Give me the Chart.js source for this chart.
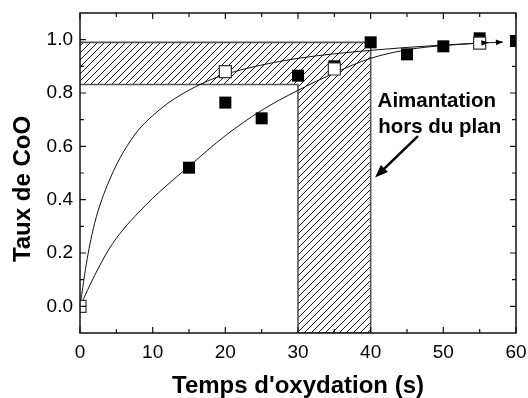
<!DOCTYPE html>
<html>
<head>
<meta charset="utf-8">
<script src="https://cdn.jsdelivr.net/npm/chart.js@4.4.0/dist/chart.umd.min.js"></script>
<style>
  html, body { margin: 0; padding: 0; background: #fff; }
  #wrap { width: 528px; height: 398px; }
</style>
</head>
<body>
<div id="wrap"><canvas id="chart" width="528" height="398"></canvas></div>
<script>
// carrés vides
const openX = [0, 20, 35, 55];
const openY = [0.0, 0.88, 0.89, 0.987];
// carrés pleins
const fullX = [15, 20, 25, 30, 35, 40, 45, 50, 55, 60];
const fullY = [0.52, 0.764, 0.705, 0.865, 0.90, 0.99, 0.945, 0.975, 1.005, 0.995];
// courbes d'ajustement
const fitOpenX = [0, 1, 2, 3, 4, 5, 6, 7, 8, 9, 10, 12, 14, 16, 18, 20, 25, 30, 35, 40, 45, 50, 55, 58.2];
const fitOpenY = [0, 0.18, 0.31, 0.40, 0.47, 0.53, 0.58, 0.623, 0.66, 0.69, 0.715, 0.76, 0.795, 0.825, 0.85, 0.87, 0.905, 0.93, 0.947, 0.96, 0.971, 0.98, 0.987, 0.991];
const fitFullX = [0, 2, 4, 6, 8, 10, 12, 15, 20, 25, 30, 35, 40, 45, 50, 56.2];
const fitFullY = [0, 0.115, 0.215, 0.29, 0.35, 0.405, 0.455, 0.525, 0.64, 0.735, 0.81, 0.875, 0.93, 0.962, 0.978, 0.989];
// zone hachurée
const hatchX = [0, 40, 40, 30, 30, 0];
const hatchY = [0.99, 0.99, -0.1, -0.1, 0.832, 0.832];
// graduations
const xTicks = [0, 10, 20, 30, 40, 50, 60];
const xMinor = [5, 15, 25, 35, 45, 55];
const yTicks = [0.0, 0.2, 0.4, 0.6, 0.8, 1.0];
const yMinor = [0.1, 0.3, 0.5, 0.7, 0.9];
// annotation
const noteLines = ['Aimantation', 'hors du plan'];
const notePos = [[49.1, 0.77], [49.5, 0.672]];
const noteArrow = [[46.5, 0.638], [40.6, 0.483]];

const FONT = "'Liberation Sans', Arial, sans-serif";

function zip(xs, ys) {
    return xs.map((x, i) => ({ x: x, y: ys[i] }));
}

// motif de hachures
function makeHatch() {
    const n = 7;
    const c = document.createElement('canvas');
    c.width = n; c.height = n;
    const g = c.getContext('2d');
    g.strokeStyle = '#1a1a1a';
    g.lineWidth = 1;
    g.beginPath();
    g.moveTo(0, n); g.lineTo(n, 0);
    g.moveTo(-1, 1); g.lineTo(1, -1);
    g.moveTo(n - 1, n + 1); g.lineTo(n + 1, n - 1);
    g.stroke();
    return g.createPattern(c, 'repeat');
}

function arrowHead(ctx, x0, y0, x1, y1, len, half) {
    const a = Math.atan2(y1 - y0, x1 - x0);
    ctx.beginPath();
    ctx.moveTo(x1, y1);
    ctx.lineTo(x1 - len * Math.cos(a) + half * Math.sin(a), y1 - len * Math.sin(a) - half * Math.cos(a));
    ctx.lineTo(x1 - len * Math.cos(a) - half * Math.sin(a), y1 - len * Math.sin(a) + half * Math.cos(a));
    ctx.closePath();
    ctx.fill();
}

const decor = {
    id: 'decor',
    afterDatasetsDraw(chart) {
        const ctx = chart.ctx;
        const xs = chart.scales.x, ys = chart.scales.y;
        ctx.save();
        ctx.fillStyle = '#000';
        ctx.strokeStyle = '#000';
        // flèches en bout de courbe
        [2, 3].forEach(i => {
            const pts = chart.getDatasetMeta(i).data;
            const p0 = pts[pts.length - 2], p1 = pts[pts.length - 1];
            arrowHead(ctx, p0.x, p0.y, p1.x, p1.y, 7, 2.8);
        });
        // annotation
        ctx.font = 'bold 20.5px ' + FONT;
        ctx.textAlign = 'center';
        ctx.textBaseline = 'middle';
        noteLines.forEach((t, i) => {
            ctx.fillText(t, xs.getPixelForValue(notePos[i][0]), ys.getPixelForValue(notePos[i][1]));
        });
        const ax0 = xs.getPixelForValue(noteArrow[0][0]), ay0 = ys.getPixelForValue(noteArrow[0][1]);
        const ax1 = xs.getPixelForValue(noteArrow[1][0]), ay1 = ys.getPixelForValue(noteArrow[1][1]);
        ctx.lineWidth = 2.5;
        ctx.beginPath();
        ctx.moveTo(ax0, ay0);
        ctx.lineTo(ax1 + (ax0 - ax1) * 0.15, ay1 + (ay0 - ay1) * 0.15);
        ctx.stroke();
        arrowHead(ctx, ax0, ay0, ax1, ay1, 13, 5);
        ctx.restore();
    },
    afterDraw(chart) {
        const ctx = chart.ctx;
        const a = chart.chartArea;
        const xs = chart.scales.x, ys = chart.scales.y;
        ctx.save();
        ctx.strokeStyle = '#111';
        ctx.lineWidth = 1.5;
        ctx.strokeRect(a.left, a.top, a.right - a.left, a.bottom - a.top);
        ctx.lineWidth = 1.2;
        ctx.beginPath();
        const tickX = (v, len) => {
            const px = xs.getPixelForValue(v);
            ctx.moveTo(px, a.bottom); ctx.lineTo(px, a.bottom - len);
            ctx.moveTo(px, a.top); ctx.lineTo(px, a.top + len);
        };
        const tickY = (v, len) => {
            const py = ys.getPixelForValue(v);
            ctx.moveTo(a.left, py); ctx.lineTo(a.left + len, py);
            ctx.moveTo(a.right, py); ctx.lineTo(a.right - len, py);
        };
        xTicks.forEach(v => tickX(v, 6));
        xMinor.forEach(v => tickX(v, 4));
        yTicks.forEach(v => tickY(v, 6));
        yMinor.forEach(v => tickY(v, 4));
        ctx.stroke();
        // titre de l'axe y
        ctx.fillStyle = '#000';
        ctx.font = 'bold 24px ' + FONT;
        ctx.textAlign = 'center';
        ctx.textBaseline = 'middle';
        ctx.translate(23, 189);
        ctx.rotate(-Math.PI / 2);
        ctx.fillText('Taux de CoO', 0, 0);
        ctx.restore();
    }
};

function noPad(s) {
    s.paddingLeft = 0; s.paddingRight = 0;
    s.paddingTop = 0; s.paddingBottom = 0;
}

new Chart(document.getElementById('chart'), {
    type: 'scatter',
    data: {
        datasets: [
            {
                data: zip(openX, openY),
                pointStyle: 'rect',
                pointRadius: 8.5,
                backgroundColor: '#fff',
                borderColor: '#333',
                borderWidth: 1.2,
                clip: 0,
                order: 0
            },
            {
                data: zip(fullX, fullY),
                pointStyle: 'rect',
                pointRadius: 8.5,
                backgroundColor: '#000',
                borderColor: '#000',
                borderWidth: 0,
                clip: 0,
                order: 1
            },
            {
                data: zip(fitOpenX, fitOpenY),
                showLine: true,
                pointRadius: 0,
                borderColor: '#111',
                borderWidth: 1,
                cubicInterpolationMode: 'monotone',
                order: 2
            },
            {
                data: zip(fitFullX, fitFullY),
                showLine: true,
                pointRadius: 0,
                borderColor: '#111',
                borderWidth: 1,
                cubicInterpolationMode: 'monotone',
                order: 2
            },
            {
                data: zip(hatchX, hatchY),
                showLine: true,
                pointRadius: 0,
                borderColor: '#555',
                borderWidth: 1.6,
                backgroundColor: makeHatch(),
                fill: 'shape',
                order: 3
            }
        ]
    },
    options: {
        responsive: false,
        animation: false,
        layout: { padding: { left: 0, right: 12, top: 13, bottom: 0 } },
        plugins: {
            legend: { display: false },
            tooltip: { enabled: false }
        },
        scales: {
            x: {
                type: 'linear',
                min: 0,
                max: 60,
                afterBuildTicks: s => { s.ticks = xTicks.map(v => ({ value: v })); },
                afterFit: s => { s.height = 65; noPad(s); },
                grid: { display: false, drawTicks: false },
                border: { display: false },
                ticks: { color: '#000', padding: 8, font: { family: FONT, size: 19 } },
                title: {
                    display: true,
                    text: "Temps d'oxydation (s)",
                    color: '#000',
                    padding: { top: 0, bottom: 0 },
                    font: { family: FONT, size: 24, weight: 'bold', lineHeight: 1 }
                }
            },
            y: {
                type: 'linear',
                min: -0.1,
                max: 1.1,
                afterBuildTicks: s => { s.ticks = yTicks.map(v => ({ value: v })); },
                afterFit: s => { s.width = 80; noPad(s); },
                grid: { display: false, drawTicks: false },
                border: { display: false },
                ticks: {
                    color: '#000',
                    padding: 7,
                    font: { family: FONT, size: 19 },
                    callback: v => v.toFixed(1)
                }
            }
        }
    },
    plugins: [decor]
});
</script>
</body>
</html>
